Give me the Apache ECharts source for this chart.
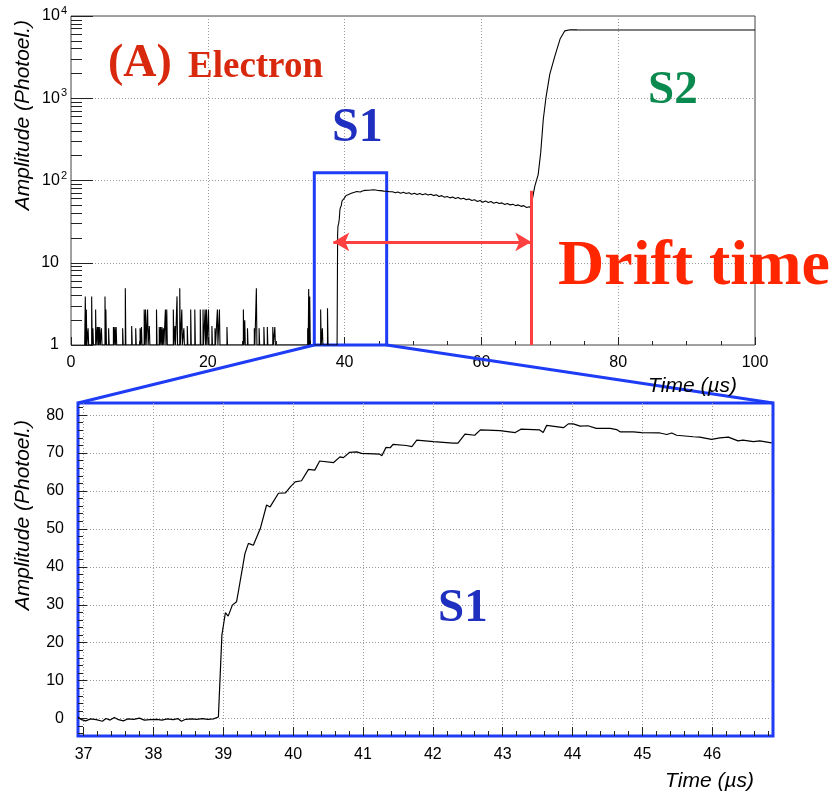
<!DOCTYPE html>
<html>
<head>
<meta charset="utf-8">
<title>S1 / S2 waveform</title>
<script src="https://cdn.jsdelivr.net/npm/echarts@6/dist/echarts.min.js"></script>
<style>
  html, body { margin: 0; padding: 0; background: #fff; }
  #main { width: 832px; height: 793px; }
</style>
</head>
<body>
<div id="main"></div>
<script>
// single-photoelectron noise spikes before S1 (time in us, height in photoel.)
var spikeTime = [2.09, 2.24, 2.5, 3.02, 3.2, 3.6, 3.85, 4.0, 4.2, 4.45, 4.97, 5.1, 5.5, 6.2, 6.4, 6.6,
  7.55, 7.94, 8.87, 9.46, 10.1, 10.3, 10.7, 10.9, 11.2, 11.45, 12.5, 12.9, 13.1, 13.3, 13.5, 13.8, 14.0,
  14.96, 15.2, 15.5, 15.9, 16.2, 16.5, 17.0, 17.5, 18.1, 18.9, 19.3, 19.6, 19.8, 20.1, 20.6, 21.05, 21.4,
  21.7, 22.8, 25.2, 25.4, 25.8, 26.8, 27.1, 27.5, 28.2, 28.7, 29.5, 29.8, 34.6, 34.75, 34.9, 36.5, 36.75, 37.5];
var spikeAmp = [3.9, 2.7, 1.6, 3.9, 1.6, 2.7, 1.65, 1.65, 1.65, 1.6, 3.9, 2.7, 1.6, 1.65, 1.65, 1.65,
  1.6, 4.9, 1.7, 1.6, 1.6, 1.65, 2.7, 2.7, 2.7, 1.7, 2.7, 1.65, 1.65, 1.65, 1.6, 2.7, 2.7,
  2.7, 1.7, 3.9, 4.9, 2.7, 1.6, 1.7, 2.7, 2.7, 2.7, 2.7, 2.7, 2.7, 2.7, 1.7, 1.6, 2.7,
  2.7, 1.65, 2.7, 2.0, 1.6, 1.6, 4.9, 1.6, 1.65, 1.65, 1.65, 1.65, 1.6, 4.8, 3.9, 2.7, 1.6, 2.8];

// S1 zoom (bottom panel)
var s1Time = [36.92, 36.97, 37.03, 37.1, 37.18, 37.27, 37.32, 37.38, 37.44, 37.5, 37.57, 37.63, 37.72, 37.8,
  37.87, 37.95, 38.05, 38.12, 38.2, 38.28, 38.35, 38.4, 38.46, 38.55, 38.62, 38.7, 38.78, 38.86, 38.93,
  38.98, 39.03, 39.07, 39.13, 39.19, 39.22, 39.31, 39.36, 39.43, 39.53, 39.62, 39.67, 39.79, 39.89, 39.96,
  40.03, 40.12, 40.22, 40.31, 40.38, 40.58, 40.67, 40.72, 40.81, 40.91, 40.98, 41.24, 41.27, 41.33, 41.39,
  41.43, 41.62, 41.7, 41.77, 41.79, 42.01, 42.29, 42.36, 42.46, 42.6, 42.68, 42.96, 43.18, 43.26, 43.53,
  43.58, 43.63, 43.87, 43.94, 44.01, 44.11, 44.22, 44.34, 44.54, 44.63, 44.68, 44.87, 44.99, 45.25, 45.35,
  45.42, 45.49, 45.73, 45.82, 45.99, 46.11, 46.23, 46.37, 46.44, 46.59, 46.68, 46.85];
var s1Amp = [0.4, -0.3, -0.6, -0.1, -0.3, -0.7, 0, -0.4, 0.3, -0.3, -0.6, -0.1, -0.2, 0.1,
  -0.4, -0.3, -0.2, -0.4, -0.1, -0.3, 0, -0.7, -0.2, -0.1, -0.2, 0, -0.2, -0.1, 0.4,
  22, 27.9, 27, 29.9, 30.8, 33.9, 43.5, 46.2, 45.7, 50.1, 56.3, 55.8, 59.4, 59.5, 61.1,
  62.4, 62.7, 65.7, 65.5, 67.9, 67.5, 69, 68.8, 70.2, 70.3, 69.9, 69.7, 69.3, 71.5, 71.4,
  72.3, 72.0, 71.7, 73.4, 73.9, 73.0, 72.6, 72.6, 75.0, 74.7, 76.1, 75.9, 75.4, 76.3, 76.1,
  75.4, 77.3, 76.7, 77.7, 77.7, 77.1, 77.2, 76.5, 76.5, 76.2, 75.6, 75.6, 75.4, 75.3, 74.9,
  75.3, 74.7, 74.3, 74.2, 73.6, 74.0, 74.2, 73.2, 73.4, 73.0, 73.2, 72.7];

// slow decay of S1 tail up to the S2 onset
var tailTime = [47.0, 47.4, 47.8, 48.2, 48.6, 49.0, 49.4, 49.8, 50.2, 50.6, 51.0, 51.4, 51.8, 52.2, 52.6,
  53.0, 53.4, 53.8, 54.2, 54.6, 55.0, 55.4, 55.8, 56.2, 56.6, 57.0, 57.4, 57.8, 58.2, 58.6, 59.0, 59.4,
  59.8, 60.2, 60.6, 61.0, 61.4, 61.8, 62.2, 62.6, 63.0, 63.4, 63.8, 64.2, 64.6, 65.0, 65.4, 65.8, 66.2,
  66.6, 67.0, 67.3];
var tailAmp = [73, 71, 72.5, 70, 72, 69.5, 71, 68, 70, 67.5, 69.5, 67, 69, 66.5, 68,
  65.5, 67, 64, 65.5, 62.5, 64, 61.5, 63, 60.5, 62, 59.5, 61, 58.5, 59.5, 57, 58.5, 55.5,
  57, 54.5, 56.5, 54, 55.5, 53, 54.5, 52.5, 53.5, 51, 52.5, 50.5, 51.5, 49.5, 50.5, 48.5, 49.5,
  47, 48, 46];

// S2 rise and saturation
var s2Time = [67.45, 67.8, 68.3, 68.67, 69.05, 69.44, 70.0, 70.76, 71.5, 72.2, 72.95, 74, 76, 80, 90, 100];
var s2Amp = [59, 85, 118, 218, 555, 1020, 1960, 3290, 5240, 6600, 6800, 6780, 6760, 6760, 6750, 6750];

var topXTicks = [0, 20, 40, 60, 80, 100];
var topYTicks = [1, 10, 100, 1000, 10000];
var botXTicks = [37, 38, 39, 40, 41, 42, 43, 44, 45, 46];
var botYTicks = [0, 10, 20, 30, 40, 50, 60, 70, 80];

// annotations (data units)
var s1Box = [35.57, 46.15, 1, 124];
var driftStart = 38.35, driftEnd = 67.3, driftLevel = 17.9;
var s2Onset = 67.35, s2MarkTop = 75;

var BLUE = '#1e3cf5', RED = '#ff4040';
var SANS = '"Liberation Sans", Arial, Helvetica, sans-serif';
var SERIF = '"Liberation Serif", "Times New Roman", serif';

// --- build top panel line
var topData = [[2.0, 1]];
for (var i = 0; i < spikeTime.length; i++) {
  topData.push([spikeTime[i], 1], [spikeTime[i], spikeAmp[i]], [spikeTime[i] + 0.08, 1]);
}
topData.push([38.9, 1]);
for (i = 0; i < s1Time.length; i++) {
  if (s1Time[i] >= 38.93) topData.push([s1Time[i], Math.max(s1Amp[i], 1)]);
}
for (i = 0; i < tailTime.length; i++) topData.push([tailTime[i], tailAmp[i]]);
for (i = 0; i < s2Time.length; i++) topData.push([s2Time[i], s2Amp[i]]);

var botData = s1Time.map(function (t, k) { return [t, s1Amp[k]]; });

var minorLog = [];
[1, 10, 100, 1000].forEach(function (d) {
  for (var m = 2; m <= 9; m++) minorLog.push(m * d);
});
var botXMinor = [];
for (var q = 185; q <= 234; q++) botXMinor.push(+(q * 0.2).toFixed(1));
var botYMinor = [];
for (q = -2; q <= 41; q++) botYMinor.push(q * 2);

var botXMin = 36.92, botXMax = 46.87, botYMin = -4.6, botYMax = 83.2;

var gridLine = { show: true, lineStyle: { color: '#9a9a9a', type: [1, 2], width: 1 } };
var tickLabel = { color: '#000', fontSize: 16, fontFamily: SANS };
var noLine = { show: false, onZero: false };
var tickColor = { color: '#222', width: 1 };

var myChart = echarts.init(document.getElementById('main'), null, { renderer: 'canvas' });

var option = {
  animation: false,
  backgroundColor: '#fff',
  grid: [
    { left: 71, top: 16, width: 684, height: 329, show: true, borderColor: '#444', borderWidth: 1, containLabel: false },
    { left: 78, top: 403, width: 695, height: 333, show: true, borderColor: BLUE, borderWidth: 3, containLabel: false }
  ],
  xAxis: [
    {
      gridIndex: 0, type: 'value', position: 'bottom', min: 0, max: 100, interval: 20,
      axisLine: noLine,
      axisTick: { inside: true, length: 8, lineStyle: tickColor },
      minorTick: { show: true, splitNumber: 4, length: 4, lineStyle: tickColor },
      axisLabel: Object.assign({ margin: 10, formatter: function (v) { return topXTicks.indexOf(v) >= 0 ? String(v) : ''; } }, tickLabel),
      splitLine: gridLine
    },
    {
      gridIndex: 1, type: 'value', position: 'bottom', min: botXMin, max: botXMax,
      axisLine: noLine,
      axisTick: { inside: true, length: 9, customValues: botXTicks, lineStyle: tickColor },
      axisLabel: Object.assign({ margin: 11, customValues: botXTicks }, tickLabel),
      splitLine: gridLine
    },
    {
      gridIndex: 1, type: 'value', position: 'bottom', min: botXMin, max: botXMax,
      axisLine: noLine, axisLabel: { show: false }, splitLine: { show: false },
      axisTick: { inside: true, length: 5, customValues: botXMinor, lineStyle: tickColor }
    }
  ],
  yAxis: [
    {
      gridIndex: 0, type: 'log', logBase: 10, position: 'left', min: 1, max: 10000,
      axisLine: noLine,
      axisTick: { inside: true, length: 22, lineStyle: tickColor },
      axisLabel: Object.assign({
        margin: 4,
        formatter: function (v) {
          var e = Math.round(Math.log10(v));
          if (e === 0) return '1{sp|}';
          if (e === 1) return '10{sp|}';
          return '10{sup|' + e + '}';
        },
        rich: {
          sup: { fontSize: 11, fontFamily: SANS, color: '#000', padding: [0, 0, 10, 1] },
          sp: { width: 8 }
        }
      }, tickLabel),
      splitLine: gridLine
    },
    {
      gridIndex: 0, type: 'log', logBase: 10, position: 'left', min: 1, max: 10000,
      axisLine: noLine, axisLabel: { show: false }, splitLine: { show: false },
      axisTick: { inside: true, length: 11, customValues: minorLog, lineStyle: tickColor }
    },
    {
      gridIndex: 1, type: 'value', position: 'left', min: botYMin, max: botYMax,
      axisLine: noLine,
      axisTick: { inside: true, length: 9, customValues: botYTicks, lineStyle: tickColor },
      axisLabel: Object.assign({ margin: 14, customValues: botYTicks }, tickLabel),
      splitLine: gridLine
    },
    {
      gridIndex: 1, type: 'value', position: 'left', min: botYMin, max: botYMax,
      axisLine: noLine, axisLabel: { show: false }, splitLine: { show: false },
      axisTick: { inside: true, length: 5, customValues: botYMinor, lineStyle: tickColor }
    }
  ],
  series: [
    {
      type: 'line', xAxisIndex: 0, yAxisIndex: 0, data: topData,
      showSymbol: false, sampling: false, silent: true,
      lineStyle: { color: '#000', width: 1.1 },
      z: 3,
      markArea: {
        silent: true,
        itemStyle: { color: 'rgba(0,0,0,0)', borderColor: BLUE, borderWidth: 3 },
        data: [[{ coord: [s1Box[0], s1Box[2]] }, { coord: [s1Box[1], s1Box[3]] }]]
      },
      markLine: {
        silent: true, animation: false,
        label: { show: false },
        lineStyle: { color: RED, width: 3, type: 'solid' },
        symbolSize: [14, 16],
        data: [
          [{ coord: [s2Onset, 1], symbol: 'none' }, { coord: [s2Onset, s2MarkTop], symbol: 'none' }],
          [{ coord: [driftStart, driftLevel], symbol: 'arrow' }, { coord: [driftEnd, driftLevel], symbol: 'arrow' }]
        ]
      }
    },
    {
      type: 'line', xAxisIndex: 1, yAxisIndex: 2, data: botData,
      showSymbol: false, silent: true, clip: true,
      lineStyle: { color: '#000', width: 1.2 }
    }
  ]
};

myChart.setOption(option);

// zoom connector lines: from the S1 box in the top panel to the corners of the lower frame
var boxL = myChart.convertToPixel({ xAxisIndex: 0, yAxisIndex: 0 }, [s1Box[0], s1Box[2]]);
var boxR = myChart.convertToPixel({ xAxisIndex: 0, yAxisIndex: 0 }, [s1Box[1], s1Box[2]]);
var frameL = myChart.convertToPixel({ xAxisIndex: 1, yAxisIndex: 2 }, [botXMin, botYMax]);
var frameR = myChart.convertToPixel({ xAxisIndex: 1, yAxisIndex: 2 }, [botXMax, botYMax]);

function txt(text, x, y, size, color, opts) {
  opts = opts || {};
  return {
    type: 'text', x: x, y: y, z: 100, silent: true, rotation: opts.rotation || 0,
    style: {
      text: text, fill: color, fontSize: size,
      fontFamily: opts.family || SERIF,
      fontWeight: opts.weight || 'bold',
      fontStyle: opts.style || 'normal',
      textAlign: opts.align || 'left',
      textVerticalAlign: 'middle'
    }
  };
}
var axisTitle = { family: SANS, weight: 'normal', style: 'italic', align: 'right' };

myChart.setOption({
  graphic: [
    { type: 'line', z: 90, silent: true, shape: { x1: boxL[0], y1: boxL[1], x2: frameL[0], y2: frameL[1] }, style: { stroke: BLUE, lineWidth: 3 } },
    { type: 'line', z: 90, silent: true, shape: { x1: boxR[0], y1: boxR[1], x2: frameR[0], y2: frameR[1] }, style: { stroke: BLUE, lineWidth: 3 } },
    txt('(A)', 108, 64, 46, '#d8290f'),
    txt('Electron', 188, 67, 37, '#d8290f'),
    txt('S1', 332, 129, 48, '#1f2fbf'),
    txt('S2', 648, 91, 47, '#0b8a4f'),
    txt('Drift time', 558, 267, 64, '#ff2600'),
    txt('S1', 438, 609, 47, '#1f2fbf'),
    txt('Time (\u00b5s)', 737, 386, 21, '#000', axisTitle),
    txt('Time (\u00b5s)', 754, 781, 21, '#000', axisTitle),
    txt('Amplitude (Photoel.)', 23, 20, 21, '#000', Object.assign({ rotation: Math.PI / 2 }, axisTitle)),
    txt('Amplitude (Photoel.)', 23, 420, 21, '#000', Object.assign({ rotation: Math.PI / 2 }, axisTitle))
  ]
});
</script>
</body>
</html>
